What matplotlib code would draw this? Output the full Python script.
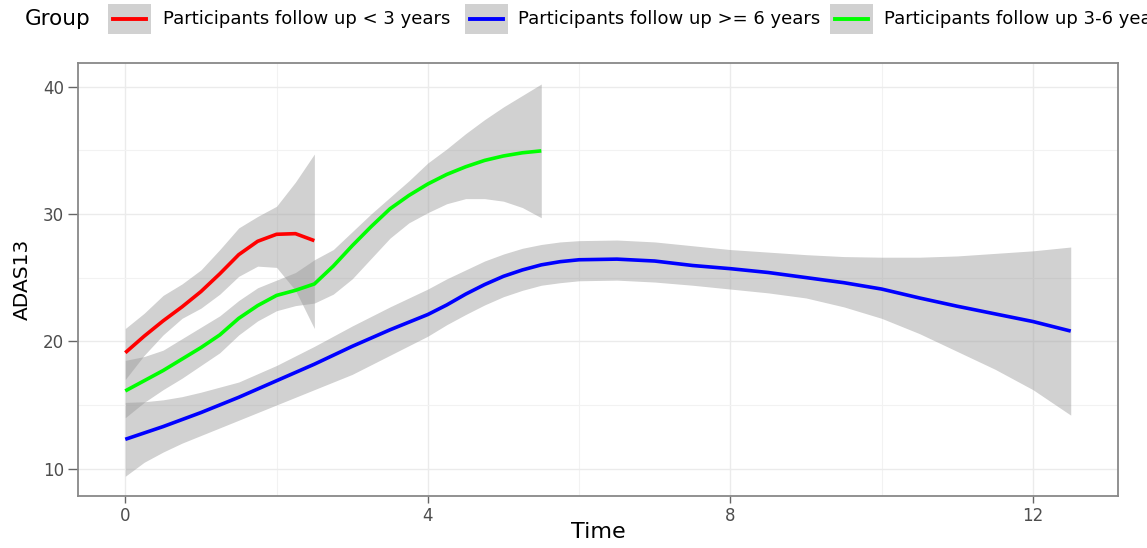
import matplotlib
matplotlib.use("Agg")
import matplotlib.pyplot as plt
from matplotlib.patches import Rectangle
from matplotlib.lines import Line2D

# ---------------- data ----------------
group_labels = ["Participants follow up < 3 years",
                "Participants follow up >= 6 years",
                "Participants follow up 3-6 years"]

# < 3 years (red)
red_time = [0, 0.25, 0.5, 0.75, 1.0, 1.25, 1.5, 1.75, 2.0, 2.25, 2.5]
red_fit = [19.1, 20.4, 21.6, 22.7, 23.9, 25.3, 26.8, 27.85, 28.4, 28.45, 27.9]
red_lo = [17.0, 18.9, 20.5, 21.8, 22.6, 23.7, 25.1, 25.9, 25.8, 24.0, 21.0]
red_hi = [21.0, 22.2, 23.6, 24.5, 25.6, 27.2, 28.9, 29.8, 30.6, 32.5, 34.7]

# >= 6 years (blue)
blue_time = [0, 0.25, 0.5, 0.75, 1.0, 1.5, 2.0, 2.5, 3.0, 3.5, 4.0, 4.25, 4.5, 4.75,
             5.0, 5.25, 5.5, 5.75, 6.0, 6.5, 7.0, 7.5, 8.0, 8.5, 9.0, 9.5, 10.0,
             10.5, 11.0, 11.5, 12.0, 12.5]
blue_fit = [12.3, 12.8, 13.3, 13.85, 14.4, 15.6, 16.9, 18.2, 19.6, 20.9, 22.1, 22.85, 23.7, 24.45,
            25.1, 25.6, 26.0, 26.25, 26.4, 26.45, 26.3, 25.95, 25.7, 25.4, 25.0, 24.6, 24.1,
            23.4, 22.75, 22.15, 21.55, 20.8]
blue_lo = [9.4, 10.5, 11.3, 12.0, 12.6, 13.8, 15.0, 16.2, 17.4, 18.9, 20.4, 21.3, 22.1, 22.85,
           23.5, 24.0, 24.4, 24.6, 24.75, 24.8, 24.65, 24.4, 24.1, 23.8, 23.4, 22.7, 21.8,
           20.6, 19.2, 17.8, 16.2, 14.2]
blue_hi = [15.2, 15.25, 15.4, 15.65, 16.0, 16.8, 18.1, 19.6, 21.2, 22.7, 24.1, 24.9, 25.6, 26.3,
           26.85, 27.3, 27.6, 27.8, 27.9, 27.95, 27.8, 27.5, 27.2, 27.0, 26.8, 26.65, 26.6,
           26.6, 26.7, 26.9, 27.1, 27.4]

# 3-6 years (green)
green_time = [0, 0.25, 0.5, 0.75, 1.0, 1.25, 1.5, 1.75, 2.0, 2.25, 2.5, 2.75,
              3.0, 3.25, 3.5, 3.75, 4.0, 4.25, 4.5, 4.75, 5.0, 5.25, 5.5]
green_fit = [16.1, 16.9, 17.7, 18.6, 19.5, 20.5, 21.8, 22.8, 23.6, 24.0, 24.5, 25.9,
             27.5, 29.0, 30.4, 31.45, 32.35, 33.1, 33.7, 34.2, 34.55, 34.8, 34.95]
green_lo = [14.0, 15.2, 16.2, 17.1, 18.1, 19.1, 20.5, 21.6, 22.4, 22.8, 23.0, 23.7,
            24.9, 26.5, 28.1, 29.3, 30.1, 30.8, 31.2, 31.2, 31.0, 30.5, 29.7]
green_hi = [18.5, 18.8, 19.3, 20.2, 21.1, 22.0, 23.2, 24.2, 24.8, 25.4, 26.4, 27.2,
            28.6, 30.0, 31.3, 32.6, 34.0, 35.1, 36.3, 37.4, 38.4, 39.3, 40.2]

x_ticks = [0, 4, 8, 12]
y_ticks = [10, 20, 30, 40]

series = [
    (red_time, red_fit, red_lo, red_hi, "#FF0000"),
    (blue_time, blue_fit, blue_lo, blue_hi, "#0000FF"),
    (green_time, green_fit, green_lo, green_hi, "#00FF00"),
]

# ---------------- figure ----------------
plt.rcParams['font.family'] = ['DejaVu Sans']
W, H = 1147, 548
fig = plt.figure(figsize=(W / 100, H / 100), dpi=100)

# panel: left 78, right 1118, top 63, bottom 496 (pixels)
ax = fig.add_axes([78 / W, 1 - 496 / H, (1118 - 78) / W, (496 - 63) / H])

for t, fit, lo, hi, col in series:
    ax.fill_between(t, lo, hi, color="#999999", alpha=0.45, linewidth=0, zorder=2)
for t, fit, lo, hi, col in series:
    ax.plot(t, fit, color=col, linewidth=2.6, zorder=3, solid_capstyle='butt',
            solid_joinstyle='round')

ax.set_xlim(-0.625, 13.125)
ax.set_ylim(7.85, 41.85)
ax.set_xticks(x_ticks)
ax.set_xticks([2, 6, 10], minor=True)
ax.set_yticks(y_ticks)
ax.set_yticks([15, 25, 35], minor=True)

ax.grid(which='major', color='#EBEBEB', linewidth=1.0, zorder=0)
ax.grid(which='minor', color='#F2F2F2', linewidth=0.8, zorder=0)
ax.set_axisbelow(True)

for s in ax.spines.values():
    s.set_color('#888888')
    s.set_linewidth(1.3)

ax.tick_params(which='minor', length=0)
ax.tick_params(axis='y', which='major', length=7, width=1.0, color='#666666',
               labelsize=12, labelcolor='#4D4D4D', pad=3)
ax.tick_params(axis='x', which='major', length=5, width=1.0, color='#666666',
               labelsize=12, labelcolor='#4D4D4D', pad=3)

ax.set_xlabel('Time', fontsize=16, color='black')
ax.xaxis.set_label_coords(0.5, -(532 - 496) / 433)
ax.xaxis.label.set_va('center')
ax.set_ylabel('ADAS13', fontsize=14.5, color='black')
ax.yaxis.set_label_coords(-(78 - 22) / 1040, 0.5)
ax.yaxis.label.set_va('center')

# ---------------- legend on top ----------------
def fx(px):
    return px / W

def fy(py):
    return 1 - py / H

leg_y = 19
fig.text(fx(25), fy(leg_y), 'Group', fontsize=15.5, va='center', ha='left')

key_left = [108, 465, 830]
text_left = [163, 518, 884]
for i, (lab, s) in enumerate(zip(group_labels, series)):
    x0 = key_left[i]
    fig.patches.append(Rectangle((fx(x0), fy(34)), 43 / W, 30 / H,
                                 transform=fig.transFigure, facecolor='#D1D1D1',
                                 edgecolor='none'))
    fig.lines.append(Line2D([fx(x0 + 5), fx(x0 + 38)], [fy(leg_y), fy(leg_y)],
                            transform=fig.transFigure, color=s[4], linewidth=2.8))
    fig.text(fx(text_left[i]), fy(leg_y), lab, fontsize=13, va='center', ha='left')

plt.savefig('out.png', dpi=100)
plt.close(fig)
